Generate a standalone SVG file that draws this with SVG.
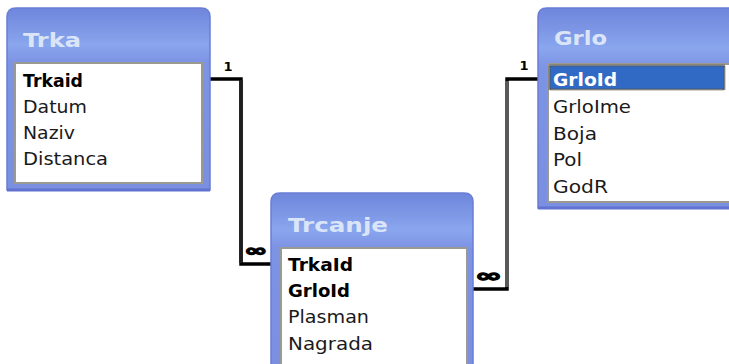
<svg xmlns="http://www.w3.org/2000/svg" width="729" height="364" viewBox="0 0 729 364">
<style>
.frame{fill:url(#fr);stroke:#6a7ed6;stroke-width:1.5}
.title{font-family:"DejaVu Sans",Verdana,sans-serif;font-weight:bold;font-size:20px;fill:#dbe5f8}
.list{fill:#ffffff;stroke:#9a9a92;stroke-width:2}
.item{font-family:"DejaVu Sans",Verdana,sans-serif;font-size:17px;fill:#1a1a1a}
.key{font-weight:bold;fill:#000000}
.sel{font-weight:bold;fill:#ffffff}
.conn{fill:none;stroke:#000000;stroke-width:3.5}
.card{font-family:"DejaVu Sans",sans-serif;font-weight:bold;fill:#000000}
.inf{stroke:#000000;stroke-width:1.2}
</style>
<defs>
<linearGradient id="fr" x1="0" y1="0" x2="0" y2="1" gradientUnits="objectBoundingBox">
<stop offset="0" stop-color="#6f86dc"/>
<stop offset="0.12" stop-color="#7e98e6"/>
<stop offset="0.2" stop-color="#8aa6ee"/>
<stop offset="0.3" stop-color="#7d93e4"/>
<stop offset="1" stop-color="#7b8fe1"/>
</linearGradient>
</defs>
<rect width="729" height="364" fill="#ffffff"/>
<g id="connectors">
<polyline class="conn" points="207,79 241,79 241,264 272,264"/>
<line x1="241" y1="80" x2="241" y2="263" stroke="#1e1e1e" stroke-width="3.5"/>
<polyline class="conn" points="540,79 507,79 507,289 473,289"/>
<line x1="507" y1="81" x2="507" y2="287" stroke="#5a5a5a" stroke-width="4"/>
<text class="card" x="228" y="71" font-size="13" text-anchor="middle">1</text>
<text class="card" x="524" y="70" font-size="13" text-anchor="middle">1</text>
<text class="card inf" x="244" y="255.5" font-size="16" textLength="23" lengthAdjust="spacingAndGlyphs">∞</text>
<text class="card inf" x="475" y="282" font-size="18" textLength="27" lengthAdjust="spacingAndGlyphs">∞</text>
</g>
<g id="trka">
<path class="frame" d="M7,190 V17 Q7,8 16,8 H201 Q210,8 210,17 V190 Z"/>
<line x1="7" y1="190" x2="210" y2="190" stroke="#6172d0" stroke-width="3"/>
<rect class="list" x="15" y="63" width="187" height="120"/>
<text class="title" x="23" y="47" textLength="58" lengthAdjust="spacingAndGlyphs">Trka</text>
<text class="item key" x="23" y="87" textLength="60" lengthAdjust="spacingAndGlyphs">Trkaid</text>
<text class="item" x="23" y="113" textLength="64" lengthAdjust="spacingAndGlyphs">Datum</text>
<text class="item" x="23" y="139" textLength="52" lengthAdjust="spacingAndGlyphs">Naziv</text>
<text class="item" x="23" y="165" textLength="85" lengthAdjust="spacingAndGlyphs">Distanca</text>
</g>
<g id="grlo">
<path class="frame" d="M538,208 V17 Q538,8 547,8 H745 V208 Z"/>
<line x1="538" y1="208" x2="745" y2="208" stroke="#6172d0" stroke-width="3"/>
<rect class="list" x="548" y="64" width="190" height="138"/>
<rect x="549.5" y="65.5" width="175" height="24" fill="#316ac5" stroke="#5a4a2a" stroke-width="2" stroke-dasharray="1,1"/>
<text class="title" x="554" y="45" textLength="53" lengthAdjust="spacingAndGlyphs">Grlo</text>
<text class="item sel" x="553" y="86" textLength="64" lengthAdjust="spacingAndGlyphs">GrloId</text>
<text class="item" x="553" y="113" textLength="78" lengthAdjust="spacingAndGlyphs">GrloIme</text>
<text class="item" x="553" y="140" textLength="44" lengthAdjust="spacingAndGlyphs">Boja</text>
<text class="item" x="553" y="166" textLength="29" lengthAdjust="spacingAndGlyphs">Pol</text>
<text class="item" x="553" y="193" textLength="55" lengthAdjust="spacingAndGlyphs">GodR</text>
</g>
<g id="trcanje">
<path class="frame" d="M271,375 V202 Q271,193 280,193 H464 Q473,193 473,202 V375 Z"/>
<rect class="list" x="281" y="248" width="186" height="130"/>
<text class="title" x="288" y="232" textLength="100" lengthAdjust="spacingAndGlyphs">Trcanje</text>
<text class="item key" x="288" y="271" textLength="65" lengthAdjust="spacingAndGlyphs">TrkaId</text>
<text class="item key" x="288" y="297" textLength="62" lengthAdjust="spacingAndGlyphs">GrloId</text>
<text class="item" x="288" y="323" textLength="81" lengthAdjust="spacingAndGlyphs">Plasman</text>
<text class="item" x="288" y="350" textLength="85" lengthAdjust="spacingAndGlyphs">Nagrada</text>
</g>
</svg>
